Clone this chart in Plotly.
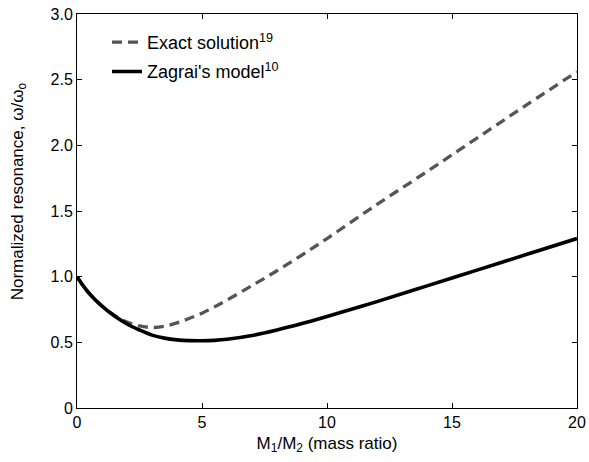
import plotly.graph_objects as go

# Data
mass_ratio = [0, 0.25, 0.5, 1, 1.5, 2, 2.5, 3, 3.5, 4, 4.5, 5, 5.5, 6, 7, 8, 9, 10, 12, 14, 16, 18, 20]
exact = [1.0, 0.93, 0.87, 0.776, 0.705, 0.655, 0.625, 0.613, 0.622, 0.648, 0.683, 0.722, 0.77,
         0.822, 0.932, 1.045, 1.165, 1.29, 1.55, 1.80, 2.055, 2.31, 2.56]
zagrai = [1.0, 0.93, 0.87, 0.775, 0.70, 0.64, 0.594, 0.555, 0.532, 0.519, 0.513, 0.512, 0.515,
          0.523, 0.552, 0.594, 0.643, 0.697, 0.81, 0.93, 1.05, 1.17, 1.29]

x_ticks = [0, 5, 10, 15, 20]
x_tick_labels = ["0", "5", "10", "15", "20"]
y_ticks = [0, 0.5, 1.0, 1.5, 2.0, 2.5, 3.0]
y_tick_labels = ["0", "0.5", "1.0", "1.5", "2.0", "2.5", "3.0"]

FONT = "Liberation Sans, Arial, sans-serif"

fig = go.Figure()
fig.add_trace(go.Scatter(
    x=mass_ratio, y=exact, mode="lines", line_shape="spline",
    name="Exact solution<sup>19</sup>", legendgroup="a",
    line=dict(color="#555555", width=3.3, dash="10px,6px"),
))
fig.add_trace(go.Scatter(
    x=mass_ratio, y=zagrai, mode="lines", line_shape="spline",
    name="Zagrai's model<sup>10</sup>", legendgroup="b",
    line=dict(color="#000000", width=3.6),
))

axis_common = dict(
    showgrid=False, zeroline=False, showline=True, linecolor="#000000", linewidth=1,
    mirror="ticks", ticks="inside", ticklen=5, tickcolor="#000000", tickwidth=1,
    tickfont=dict(family=FONT, size=16, color="#000000"), automargin=False,
)

fig.update_layout(
    width=589, height=462,
    margin=dict(l=77, r=12, t=14, b=54),
    paper_bgcolor="white", plot_bgcolor="white",
    font=dict(family=FONT, color="#000000"),
    xaxis=dict(range=[0, 20], tickvals=x_ticks, ticktext=x_tick_labels,
               title=dict(text="M<sub>1</sub>/M<sub>2</sub> (mass ratio)",
                          font=dict(family=FONT, size=17), standoff=6),
               **axis_common),
    yaxis=dict(range=[0, 3], tickvals=y_ticks, ticktext=y_tick_labels,
               **axis_common),
    legend=dict(x=0.06, y=0.975, xanchor="left", yanchor="top",
                bgcolor="rgba(0,0,0,0)", borderwidth=0,
                font=dict(family=FONT, size=18, color="#000000"),
                tracegroupgap=3),
    showlegend=True,
    annotations=[dict(
        text="Normalized resonance, ω/ω<sub>o</sub>", textangle=-90,
        xref="paper", yref="paper", x=-0.116, y=0.55,
        xanchor="center", yanchor="middle", showarrow=False,
        font=dict(family=FONT, size=17, color="#000000"),
    )],
)

fig.write_html("out.html")
